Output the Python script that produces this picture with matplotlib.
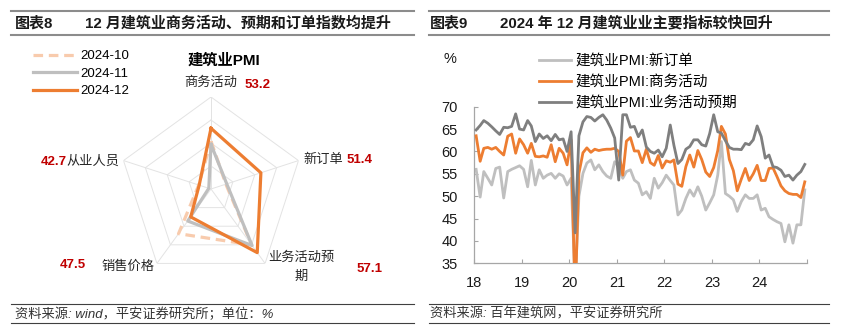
import numpy as np
import pandas as pd
import matplotlib
matplotlib.use("Agg")
import matplotlib.pyplot as plt
from matplotlib.lines import Line2D

plt.rcParams['font.family'] = ['Liberation Sans', 'Noto Sans CJK SC']

# ---------------- data: radar (left) ----------------
radar_categories = ['商务活动', '新订单', '业务活动预期', '销售价格', '从业人员']
radar_series_names = ['2024-10', '2024-11', '2024-12']
pmi_2024_10 = [50.4, 43.4, 55.0, 52.0, 42.8]
pmi_2024_11 = [49.7, 43.6, 55.2, 48.6, 40.5]
pmi_2024_12 = [53.2, 51.4, 57.1, 47.5, 42.7]
radar_value_labels = ['53.2', '51.4', '57.1', '47.5', '42.7']

# ---------------- data: line chart (right) ----------------
start_month = '2018-01'
n_months = 84
new_orders = [
    56.0, 49.8, 55.5, 54.0, 52.5, 56.2, 56.5, 49.6, 55.5, 56.0, 56.4, 56.8,
    56.0, 52.1, 58.0, 52.5, 55.9, 54.0, 54.7, 55.1, 54.0, 55.0, 54.5, 52.5,
    54.0, 30.0, 50.0, 55.1, 57.4, 58.1, 55.9, 57.0, 55.5, 54.5, 54.0, 57.7,
    56.5, 54.0, 55.5, 55.9, 53.6, 52.9, 50.3, 51.0, 49.5, 54.0, 51.8, 53.0,
    54.7, 53.5, 52.5, 45.8, 46.9, 49.5, 51.4, 50.0, 52.1, 50.0, 46.9, 48.5,
    50.3, 54.7, 62.2, 50.6, 50.0, 49.2, 46.6, 48.8, 50.3, 49.5, 49.5, 50.3,
    46.9, 47.3, 45.4, 44.8, 44.3, 43.9, 39.8, 43.6, 39.5, 43.6, 43.6, 51.4,
]
business_activity = [
    63.5, 57.8, 60.7, 60.9, 60.5, 60.9, 60.0, 59.2, 63.4, 63.9, 59.6, 62.8,
    61.5, 59.6, 61.8, 58.9, 58.8, 59.0, 58.7, 61.5, 57.7, 60.7, 59.6, 57.0,
    62.6, 26.6, 55.1, 59.7, 60.8, 59.8, 60.5, 60.2, 60.4, 60.5, 60.5, 60.7,
    60.0, 54.7, 62.3, 63.1, 60.1, 60.1, 57.5, 60.5, 57.5, 56.9, 59.1, 56.3,
    57.9, 57.6, 58.1, 52.7, 52.2, 56.6, 59.2, 56.5, 60.2, 58.2, 55.4, 54.4,
    56.4, 60.2, 65.6, 63.9, 58.2, 55.7, 51.2, 53.8, 56.2, 53.5, 55.0, 56.9,
    53.5, 53.5, 56.2, 56.3, 54.4, 52.3, 51.2, 50.6, 50.4, 50.4, 49.7, 53.2,
]
expectations = [
    64.8, 65.8, 66.9, 66.3, 65.5, 64.6, 63.8, 65.4, 65.3, 65.6, 68.4, 65.0,
    64.8, 66.9, 65.7, 62.2, 63.9, 62.9, 63.5, 62.4, 63.8, 62.6, 62.8, 60.0,
    64.4, 41.8, 63.5, 66.6, 67.8, 67.6, 66.8, 67.6, 68.2, 67.0, 65.2, 63.0,
    53.6, 68.2, 68.2, 65.4, 65.6, 63.3, 64.8, 61.0, 60.0, 59.6, 60.3, 58.8,
    60.7, 65.9, 61.4, 57.3, 58.2, 60.5, 61.1, 62.6, 62.6, 61.5, 61.2, 64.0,
    68.2, 64.4, 64.1, 62.4, 60.9, 60.5, 60.5, 60.4, 61.8, 61.5, 62.6, 65.7,
    63.3, 58.5, 59.2, 56.6, 56.4, 55.8, 54.4, 54.7, 53.6, 54.7, 55.5, 57.1,
]
line_names = ['建筑业PMI:新订单', '建筑业PMI:商务活动', '建筑业PMI:业务活动预期']
year_labels = ['18', '19', '20', '21', '22', '23', '24', '']

W, H = 844, 334
fig = plt.figure(figsize=(W / 100, H / 100), dpi=100)


def fx(px):
    return px / W


def fy(py):
    return 1 - py / H


# ---------------- headers and footers ----------------
hdr_col = '#8c8c8c'
for (x0, x1) in [(11, 414), (429, 829)]:
    for y in (11, 34.5):
        fig.add_artist(Line2D([fx(x0), fx(x1)], [fy(y), fy(y)], color=hdr_col, lw=1.5))
    for y in (304, 323.3):
        fig.add_artist(Line2D([fx(x0), fx(x1)], [fy(y), fy(y)], color='#404040', lw=0.8))

fig.text(fx(15), fy(23), '图表8', fontsize=10.8, weight='bold', va='center', color='#1a1a1a')
fig.text(fx(85), fy(23), '12 月建筑业商务活动、预期和订单指数均提升', fontsize=10.8, weight='bold',
         va='center', color='#1a1a1a')
fig.text(fx(430), fy(23), '图表9', fontsize=10.8, weight='bold', va='center', color='#1a1a1a')
fig.text(fx(500), fy(23), '2024 年 12 月建筑业业主要指标较快回升', fontsize=10.8, weight='bold',
         va='center', color='#1a1a1a')

fig.text(fx(15), fy(314), '资料来源: wind，平安证券研究所；单位：%', fontsize=9.5, style='italic',
         va='center', color='#333333')
fig.text(fx(430), fy(314), '资料来源: 百年建筑网，平安证券研究所', fontsize=9.5, style='italic',
         va='center', color='#333333')

# ---------------- radar chart ----------------
cx, cy, R = 211, 189, 92
axr = fig.add_axes([fx(cx - R), fy(cy + R), 2 * R / W, 2 * R / H], projection='polar')
axr.set_theta_zero_location('N')
axr.set_theta_direction(-1)
axr.set_ylim(40, 60)
axr.set_axis_off()

n_cat = len(radar_categories)
theta = np.linspace(0, 2 * np.pi, n_cat, endpoint=False)
theta_closed = np.append(theta, theta[0])

grid_col = '#e3e3e3'
for level in (45, 50, 55, 60):
    axr.plot(theta_closed, [level] * (n_cat + 1), color=grid_col, lw=0.7, zorder=1)
for t in theta:
    axr.plot([t, t], [40, 60], color=grid_col, lw=0.7, zorder=1)


def closed(vals):
    return list(vals) + [vals[0]]


l10, = axr.plot(theta_closed, closed(pmi_2024_10), color='#f8cbad', lw=2.3, dashes=(3, 1.8),
                label=radar_series_names[0], zorder=3)
l11, = axr.plot(theta_closed, closed(pmi_2024_11), color='#bfbfbf', lw=2.3,
                label=radar_series_names[1], zorder=4)
l12, = axr.plot(theta_closed, closed(pmi_2024_12), color='#ed7d31', lw=2.3,
                label=radar_series_names[2], zorder=5)

axr.legend(handles=[l10, l11, l12], loc='upper left', bbox_to_anchor=(fx(33), fy(50)),
           bbox_transform=fig.transFigure, frameon=False, fontsize=9.5, handlelength=3.3,
           handletextpad=0.3, labelspacing=0.4, borderpad=0, borderaxespad=0)

fig.text(fx(224), fy(60), '建筑业PMI', fontsize=11, weight='bold', ha='center', va='center')

red = '#c00000'
cat_pos = [(211, 83), (323, 160), (301, 258), (127.5, 267), (92.5, 162)]
val_pos = [(257.5, 85), (359.5, 160), (370, 269), (73, 265), (53.5, 162)]
for i, name in enumerate(radar_categories):
    x, y = cat_pos[i]
    if name == '业务活动预期':
        fig.text(fx(x), fy(y), name[:5], fontsize=9.5, ha='center', va='center', color='#262626')
        fig.text(fx(x), fy(y + 19), name[5:], fontsize=9.5, ha='center', va='center', color='#262626')
    else:
        fig.text(fx(x), fy(y), name, fontsize=9.5, ha='center', va='center', color='#262626')
    vx, vy = val_pos[i]
    fig.text(fx(vx), fy(vy), radar_value_labels[i], fontsize=9.5, weight='bold', ha='center',
             va='center', color=red)

# ---------------- line chart ----------------
dates = pd.date_range(start_month, periods=n_months, freq='MS') + pd.Timedelta(days=14)
ax = fig.add_axes([fx(474.3), fy(263.3), (807 - 474.3) / W, (263.3 - 106.7) / H])
ax.plot(dates, new_orders, color='#bfbfbf', lw=2.0, label=line_names[0], zorder=2)
ax.plot(dates, business_activity, color='#ed7d31', lw=2.0, label=line_names[1], zorder=3)
ax.plot(dates, expectations, color='#7f7f7f', lw=2.0, label=line_names[2], zorder=4)

ax.set_ylim(35, 70)
ax.set_yticks(np.arange(35, 71, 5))
year_ticks = pd.date_range('2018-01-01', '2025-01-01', freq='YS')
ax.set_xlim(year_ticks[0], year_ticks[-1])
ax.set_xticks(year_ticks)
ax.set_xticklabels(year_labels)
for s in ('top', 'right'):
    ax.spines[s].set_visible(False)
for s in ('left', 'bottom'):
    ax.spines[s].set_color('#a6a6a6')
    ax.spines[s].set_linewidth(0.9)
ax.tick_params(axis='both', direction='in', length=3, color='#a6a6a6', labelsize=10.5,
               labelcolor='#1a1a1a')
ax.tick_params(axis='x', pad=9.5)
ax.tick_params(axis='y', pad=12)
ax.patch.set_alpha(0)

fig.text(fx(450), fy(59), '%', fontsize=10.5, ha='center', va='center', color='#1a1a1a')

ax.legend(loc='upper left', bbox_to_anchor=(fx(538.7), fy(54)), bbox_transform=fig.transFigure,
          frameon=False, fontsize=10.5, handlelength=2.2, handletextpad=0.35, labelspacing=0.47,
          borderpad=0, borderaxespad=0)

fig.savefig('out.png', dpi=100)
